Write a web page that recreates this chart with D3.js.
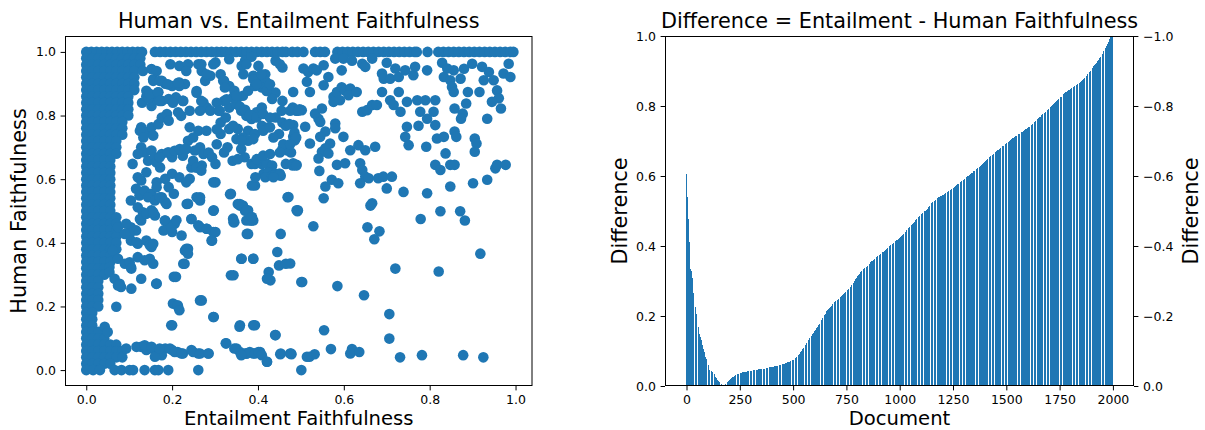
<!DOCTYPE html>
<html><head><meta charset="utf-8">
<script src="https://cdn.jsdelivr.net/npm/d3@7"></script>
<style>body{margin:0;background:#fff}svg{display:block}</style>
</head><body><svg id="chart" width="1205" height="430"></svg>
<script>
// ---------- DATA ----------
const leftTitle = "Human vs. Entailment Faithfulness";
const rightTitle = "Difference = Entailment - Human Faithfulness";
const leftXLabel = "Entailment Faithfulness";
const leftYLabel = "Human Faithfulness";
const rightXLabel = "Document";
const rightYLabel = "Difference";
const scatterTicks = [0, 0.2, 0.4, 0.6, 0.8, 1.0];
const docTicks = [0, 250, 500, 750, 1000, 1250, 1500, 1750, 2000];
const diffTicks = [0, 0.2, 0.4, 0.6, 0.8, 1.0];
const diffTicksRight = [0, -0.2, -0.4, -0.6, -0.8, -1.0];

// scatter: [entailment, human]
const topRowPoints = [[0,1],[.012,1],[.024,1],[.036,1],[.048,1],[.06,1],[.072,1],[.084,1],[.096,1],[.108,1],[.12,1],[.13,1],
[.16,1],[.172,1],[.184,1],[.196,1],[.208,1],[.22,1],[.232,1],[.244,1],[.256,1],[.268,1],[.28,1],[.292,1],[.304,1],[.315,1],
[.325,1],[.337,1],[.349,1],[.361,1],[.373,1],[.385,1],[.397,1],[.409,1],[.421,1],[.433,1],[.445,1],[.457,1],[.465,1],
[.48,1],[.492,1],[.506,1],[.533,1],[.545,1],[.556,1],
[.585,1],[.597,1],[.609,1],[.621,1],[.633,1],[.645,1],[.657,1],[.669,1],[.681,1],[.693,1],[.705,1],[.717,1],[.729,1],[.741,1],[.753,1],[.765,1],[.77,1],
[.795,1],[.82,1],[.832,1],[.844,1],[.856,1],[.868,1],[.88,1],[.892,1],[.904,1],[.916,1],[.928,1],[.94,1],[.952,1],[.964,1],[.976,1],[.988,1],[.995,1]];

const denseColumnPoints = [
[0,.98],[.014,.98],[.028,.98],[.042,.98],[.056,.98],[.07,.98],[.084,.98],[.098,.98],[.112,.98],[.126,.98],
[0,.96],[.014,.96],[.028,.96],[.042,.96],[.056,.96],[.07,.96],[.084,.96],[.098,.96],[.112,.96],[.126,.96],
[0,.94],[.014,.94],[.028,.94],[.042,.94],[.056,.94],[.07,.94],[.084,.94],[.098,.94],[.112,.94],
[0,.92],[.014,.92],[.028,.92],[.042,.92],[.056,.92],[.07,.92],[.084,.92],[.098,.92],[.112,.92],
[0,.90],[.014,.90],[.028,.90],[.042,.90],[.056,.90],[.07,.90],[.084,.90],[.098,.90],[.112,.90],
[0,.88],[.014,.88],[.028,.88],[.042,.88],[.056,.88],[.07,.88],[.084,.88],[.098,.88],[.112,.88],
[0,.86],[.014,.86],[.028,.86],[.042,.86],[.056,.86],[.07,.86],[.084,.86],[.098,.86],
[0,.84],[.014,.84],[.028,.84],[.042,.84],[.056,.84],[.07,.84],[.084,.84],[.098,.84],
[0,.82],[.014,.82],[.028,.82],[.042,.82],[.056,.82],[.07,.82],[.084,.82],[.098,.82],
[0,.80],[.014,.80],[.028,.80],[.042,.80],[.056,.80],[.07,.80],[.084,.80],[.098,.80],
[0,.78],[.014,.78],[.028,.78],[.042,.78],[.056,.78],[.07,.78],[.084,.78],
[0,.76],[.014,.76],[.028,.76],[.042,.76],[.056,.76],[.07,.76],[.084,.76],
[0,.74],[.014,.74],[.028,.74],[.042,.74],[.056,.74],[.07,.74],[.084,.74],
[0,.72],[.014,.72],[.028,.72],[.042,.72],[.056,.72],[.07,.72],
[0,.70],[.014,.70],[.028,.70],[.042,.70],[.056,.70],[.07,.70],
[0,.68],[.014,.68],[.028,.68],[.042,.68],[.056,.68],[.07,.68],
[0,.66],[.014,.66],[.028,.66],[.042,.66],[.056,.66],
[0,.64],[.014,.64],[.028,.64],[.042,.64],[.056,.64],
[0,.62],[.014,.62],[.028,.62],[.042,.62],[.056,.62],
[0,.60],[.014,.60],[.028,.60],[.042,.60],[.056,.60],
[0,.58],[.014,.58],[.028,.58],[.042,.58],[.056,.58],
[0,.56],[.014,.56],[.028,.56],[.042,.56],[.056,.56],
[0,.54],[.014,.54],[.028,.54],[.042,.54],[.056,.54],
[0,.52],[.014,.52],[.028,.52],[.042,.52],[.056,.52],
[0,.50],[.014,.50],[.028,.50],[.042,.50],[.056,.50],
[0,.48],[.014,.48],[.028,.48],[.042,.48],[.056,.48],[.07,.48],
[0,.46],[.014,.46],[.028,.46],[.042,.46],[.056,.46],[.07,.46],
[0,.44],[.014,.44],[.028,.44],[.042,.44],[.056,.44],[.07,.44],
[0,.42],[.014,.42],[.028,.42],[.042,.42],[.056,.42],[.07,.42],
[0,.40],[.014,.40],[.028,.40],[.042,.40],[.056,.40],[.07,.40],
[0,.38],[.014,.38],[.028,.38],[.042,.38],[.056,.38],[.07,.38],
[0,.36],[.014,.36],[.028,.36],[.042,.36],[.056,.36],
[0,.34],[.014,.34],[.028,.34],[.042,.34],[.056,.34],
[0,.32],[.014,.32],[.028,.32],[.042,.32],
[0,.30],[.014,.30],[.028,.30],[.042,.30],
[0,.28],[.014,.28],[.028,.28],
[0,.26],[.014,.26],[.028,.26],
[0,.24],[.014,.24],[.028,.24],
[0,.22],[.014,.22],[.028,.22],
[0,.20],[.014,.20],[.028,.20],
[0,.18],[.014,.18],
[0,.16],[.014,.16],
[0,.14],[.014,.14],
[0,.12],[.014,.12],[.028,.12],
[0,.10],[.014,.10],[.028,.10],[.042,.10],
[0,.08],[.014,.08],[.028,.08],[.042,.08],[.056,.08],[.07,.08],
[0,.06],[.014,.06],[.028,.06],[.042,.06],[.056,.06],[.07,.06],[.084,.06],
[0,.04],[.014,.04],[.028,.04],[.042,.04],[.056,.04],[.07,.04],[.084,.04],
[0,.02],[.014,.02],[.028,.02],[.042,.02],[.056,.02],
[0,0],[.016,0],[.032,0],[.066,0],[.082,0],[.101,0],[.109,0],[.136,0],[.16,0],[.168,0],[.191,0],[.261,0],[.501,0]];

const scatteredPoints = [
[.506,.948],[.517,.937],[.529,.948],[.537,.942],[.553,.958],[.514,.906],[.553,.895],[.564,.921],
[.58,.979],[.599,.979],[.619,.972],[.643,.963],[.65,.953],[.666,.979],[.595,.942],
[.7,.966],[.689,.932],[.693,.916],[.708,.916],[.72,.948],[.728,.921],[.743,.942],[.762,.927],[.766,.953],[.794,.942],
[.829,.966],[.841,.948],[.856,.942],[.88,.947],[.899,.963],[.833,.921],[.848,.911],[.872,.916],[.852,.89],[.856,.874],
[.922,.953],[.938,.937],[.926,.911],[.949,.911],[.972,.932],[.984,.963],[.988,.921],
[.957,.879],[.961,.854],[.945,.843],[.966,.822],
[.889,.874],[.916,.874],[.885,.838],[.858,.822],[.877,.806],[.873,.79],[.934,.79],[.521,.874],
[.576,.859],[.584,.874],[.595,.889],[.603,.879],[.615,.885],[.611,.864],[.591,.848],[.576,.843],[.63,.874],
[.689,.874],[.728,.874],[.708,.848],[.716,.833],[.732,.812],[.747,.843],[.771,.848],[.79,.848],[.813,.848],
[.643,.812],[.654,.817],[.666,.833],[.677,.833],[.482,.874],[.49,.817],[.502,.817],
[.533,.806],[.541,.79],[.549,.822],[.545,.78],[.482,.77],[.51,.765],[.58,.775],[.58,.76],[.557,.75],[.545,.733],
[.482,.733],[.486,.722],[.599,.733],[.521,.712],[.568,.712],[.557,.697],[.549,.686],[.564,.681],[.541,.665],
[.615,.691],[.634,.707],[.65,.691],[.673,.702],
[.747,.765],[.774,.768],[.794,.79],[.813,.77],[.778,.812],[.809,.812],[.743,.733],[.751,.707],[.792,.702],
[.817,.728],[.833,.733],[.858,.75],[.862,.733],[.837,.681],[.905,.728],[.909,.712],[.905,.686],
[.482,.65],[.49,.645],[.584,.645],[.603,.65],[.638,.65],[.643,.629],[.65,.608],[.658,.603],
[.543,.626],[.572,.598],[.587,.587],[.557,.577],[.553,.54],
[.638,.587],[.68,.603],[.692,.608],[.712,.608],[.7,.571],[.739,.56],
[.813,.645],[.825,.629],[.848,.645],[.858,.645],[.794,.556],[.848,.577],
[.901,.587],[.934,.598],[.953,.634],[.957,.645],[.977,.645],[.666,.524],
[.492,.499],[.529,.452],[.662,.517],[.655,.449],[.683,.436],[.671,.411],[.779,.475],[.825,.499],[.871,.499],[.882,.47],
[.918,.366],[.475,.335],[.72,.319],[.821,.31],[.503,.277],[.585,.264],[.647,.235],[.706,.176],[.554,.125],[.706,.099],
[.478,.05],[.52,.042],[.532,.05],[.57,.066],[.619,.066],[.615,.052],[.636,.057],[.731,.04],[.782,.047],[.878,.047],[.925,.04],
[.132,.94],[.152,.946],[.164,.94],[.14,.878],[.156,.914],[.176,.909],[.168,.873],[.176,.846],[.192,.852],[.184,.9],[.2,.893],[.196,.961],[.217,.904],
[.13,.84],[.14,.86],[.152,.83],[.165,.85],[.145,.855],
[.128,.763],[.14,.747],[.152,.763],[.156,.737],[.168,.773],[.176,.794],[.188,.805],[.192,.784],
[.128,.7],[.136,.684],[.152,.69],[.144,.658],[.16,.669],[.12,.679],[.108,.648],
[.172,.637],[.176,.679],[.192,.684],[.2,.669],[.12,.606],[.128,.596],[.14,.622],[.164,.59],[.184,.601],[.2,.617],
[.116,.57],[.124,.549],[.136,.564],[.152,.554],[.164,.575],[.176,.543],[.192,.575],[.204,.554],
[.104,.533],[.12,.512],[.144,.543],[.16,.533],[.184,.528],[.132,.496],[.152,.502],[.16,.486],
[.104,.449],[.116,.439],[.128,.47],[.184,.47],[.192,.455],[.204,.46],[.2,.434],[.18,.439],
[.104,.407],[.12,.397],[.14,.407],[.152,.387],[.148,.35],[.12,.355],[.136,.345],[.156,.334],[.104,.324],
[.128,.287],[.164,.272],[.204,.293],[.2,.141],
[.128,.073],[.14,.063],[.152,.068],[.168,.057],[.184,.068],[.2,.063],[.213,.057],[.225,.052],[.176,.047],[.16,.042],
[.074,.449],[.093,.46],[.101,.428],[.09,.428],[.117,.402],[.148,.392],[.156,.397],[.125,.475],[.14,.491],[.156,.496],
[.187,.522],[.234,.522],[.265,.533],[.183,.47],[.206,.46],[.198,.449],[.222,.423],[.245,.475],[.261,.455],[.28,.444],
[.296,.434],[.292,.407],[.23,.376],[.237,.381],[.226,.334],[.296,.501],[.343,.465],[.358,.517],[.37,.501],[.381,.47],
[.389,.47],[.374,.428],[.362,.35],[.389,.35],[.343,.298],
[.062,.376],[.074,.35],[.09,.334],[.101,.339],[.054,.324],[.054,.308],[.066,.287],[.078,.271],[.081,.261],[.105,.256],
[.074,.266],[.105,.319],[.163,.271],[.07,.199],[.043,.136],[.05,.12],[.202,.209],[.214,.199],[.198,.141],[.265,.219],
[.296,.167],[.326,.084],[.35,.068],[.37,.052],[.358,.141],[.389,.141],[.44,.11],
[.093,.068],[.117,.073],[.136,.078],[.152,.073],[.171,.068],[.195,.068],[.206,.057],[.222,.052],[.245,.063],[.261,.052],[.284,.052],
[.249,.057],[.265,.052],
[.358,.057],[.374,.052],[.389,.052],[.405,.057],[.421,.026],[.452,.05],[.475,.052],[.514,.042],
[.217,.956],[.237,.961],[.23,.899],[.217,.893],[.209,.857],[.225,.846],[.221,.799],
[.261,.961],[.269,.94],[.277,.909],[.289,.925],[.301,.967],[.257,.872],[.273,.841],[.281,.825],[.289,.815],[.265,.815],
[.241,.763],[.261,.752],[.237,.721],[.249,.731],[.265,.7],[.273,.679],[.285,.684],[.293,.669],[.301,.648],
[.233,.695],[.253,.69],[.225,.674],[.245,.637],[.257,.637],[.269,.643],[.217,.606],[.241,.601],[.233,.59],
[.301,.59],[.237,.523],[.265,.543],[.297,.502],[.245,.475],[.265,.449],[.281,.444],[.301,.434],[.293,.407],
[.233,.381],[.237,.366],[.229,.334],[.209,.293],[.269,.219],[.297,.167],[.213,.204],[.217,.188],[.285,.052],
[.313,.93],[.321,.909],[.333,.893],[.345,.878],[.353,.857],[.365,.862],[.377,.878],[.393,.893],[.389,.925],[.405,.909],
[.333,.977],[.37,.972],[.385,.985],
[.321,.846],[.333,.825],[.349,.836],[.361,.815],[.373,.799],[.385,.789],[.397,.81],[.409,.825],
[.309,.815],[.313,.778],[.325,.794],[.333,.758],[.353,.758],[.377,.752],[.393,.742],[.409,.768],[.425,.763],
[.313,.742],[.329,.7],[.321,.684],[.365,.731],[.377,.721],[.361,.695],[.369,.669],[.385,.648],[.341,.658],[.353,.663],
[.393,.648],[.409,.648],[.421,.648],[.433,.643],[.413,.617],[.425,.622],[.441,.617],[.453,.611],[.393,.58],
[.337,.554],[.353,.522],[.365,.517],[.377,.502],[.385,.47],[.373,.47],[.345,.465],[.377,.428],[.361,.35],[.337,.298],
[.357,.136],[.393,.141],[.325,.084],[.345,.068],[.373,.052],[.381,.057],[.361,.047],[.393,.052],[.401,.057],[.409,.047],[.389,.35],
[.401,.956],[.417,.93],[.401,.909],[.417,.909],[.409,.888],[.425,.878],[.441,.872],[.433,.852],[.457,.846],[.481,.825],[.489,.815],[.497,.82],
[.441,.972],[.457,.951],[.441,.794],[.457,.778],[.465,.768],[.473,.773],[.485,.747],[.449,.742],[.489,.731],
[.457,.695],[.469,.69],[.477,.684],[.465,.648],[.481,.643],[.489,.643],[.417,.606],[.433,.611],[.449,.617],[.469,.543],
[.493,.502],[.453,.428],[.445,.371],[.449,.329],[.425,.308],[.429,.282],[.421,.287],[.465,.334],
[.441,.11],[.453,.052],[.477,.052],[.421,.026],[.501,.277],
[.362,.956],[.373,.961],[.366,.93],[.389,.914],[.397,.898],[.408,.93],[.42,.877],[.428,.898],[.451,.961],
[.342,.857],[.35,.862],[.358,.828],[.37,.818],[.381,.802],[.397,.794],[.412,.805],[.428,.794],[.455,.815],[.475,.815],[.494,.815],
[.342,.768],[.412,.752],[.428,.763],[.35,.726],[.362,.721],[.389,.726],[.436,.731],[.459,.71],[.475,.71],
[.397,.663],[.412,.674],[.428,.679],[.451,.684],[.28,.752],[.304,.757],[.304,.71],[.249,.658],[.257,.637],[.268,.627],
[.19,.684],[.206,.689],[.218,.695],[.23,.695],[.163,.653],[.171,.669],[.125,.752],[.133,.731],
[.296,.59],[.335,.553],[.386,.58],[.394,.606],[.358,.522],[.373,.502],[.386,.481],[.451,.617],[.436,.606],[.471,.544],
[.49,.502],[.342,.476],[.257,.543],[.171,.543],[.21,.471],
[.268,.961],[.296,.961],[.156,.909],[.171,.909],[.19,.898],[.214,.903],[.148,.868],[.167,.873],[.171,.846],
[.233,.94],[.257,.877],[.268,.846],[.28,.93],[.319,.909],[.323,.888],[.304,.84],[.327,.851],[.311,.815],
[.202,.84],[.214,.81],[.226,.846],[.241,.815]];

const scatterPoints = topRowPoints.concat(denseColumnPoints, scatteredPoints);

// difference per document (2000 documents)
const diffValues = [
.606,.59,.575,.56,.552,.54,.525,.505,.49,.476,.465,.45,.44,.425,.412,.39,.37,.35,.336,
.334,.333,.332,.331,.33,.329,.327,.325,
.32,.31,.295,.285,.275,.27,
.265,.26,.256,.252,.248,.244,.24,.236,.232,
.227,
.223,.219,.214,.21,.206,.202,.198,.194,.189,
.185,.181,.177,.173,.169,.165,.161,.157,.153,.15,
.148,.146,.144,.142,.14,.138,.136,.134,.131,
.128,.126,.123,.121,.118,.116,.113,.111,.108,.106,
.103,.101,.098,.096,.093,.091,.089,.086,.084,
.082,.081,.079,.078,.076,.075,.073,.072,.07,
.068,.066,.064,.062,.06,.057,.054,.051,.048,.046,
.046,.045,.045,.044,.044,.044,.043,.043,.043,.042,.042,.042,.041,.041,.041,.04,.04,.039,
.038,.037,.036,.034,.033,.032,.031,.03,.028,.027,
.026,.025,.024,.023,.022,.021,.02,.018,.017,
.016,.016,.015,.014,.014,.013,.012,.012,.011,.011,.01,
.009,.009,.008,.007,.007,.006,.005,.005,.004,.004,.003,
.003,.002,.002,.001,.001,.001,0,0,0,
.001,.002,.003,.004,.005,.006,.007,.008,.008,.009,.01,
.01,.011,.011,.011,.012,.012,.012,.013,.013,.013,.014,
.015,.016,.016,.017,.018,.019,.019,.02,.021,.021,.022,.022,.023,
.023,.024,.024,.025,.025,.026,.026,.027,.027,.028,.028,.029,
.029,.03,.03,.03,.031,.031,.032,.032,.032,.033,.033,.034,.034,
.034,.034,.034,.035,.035,.035,.035,.035,.036,.036,.036,.036,.036,.037,.037,.037,.037,.037,.038,.038,.038,.038,
.038,.038,.038,.039,.039,.039,.039,.039,.039,.039,.039,.04,.04,.04,.04,.04,.04,.04,.04,.041,.041,.041,.041,.041,.041,.041,.041,.042,.042,.042,.042,
.042,.042,.042,.042,.043,.043,.043,.043,.043,.043,.043,.043,.044,.044,.044,.044,.044,.044,.044,.044,.045,.045,.045,.045,.045,.045,.045,.045,
.046,.046,.046,.046,.046,.046,.046,.046,.047,.047,.047,.047,.047,.047,.047,.047,.048,.048,.048,
.048,.048,.048,.048,.048,.048,.049,.049,.049,.049,.049,.049,.049,.049,.049,.049,.049,.049,.05,.05,.05,.05,.05,.05,.05,.05,.05,.05,.05,.05,
.051,.051,.051,.051,.051,.051,.051,.051,.051,.051,.051,.051,.052,.052,.052,.052,.052,
.052,.052,.052,.052,.053,.053,.053,.053,.053,.053,.053,.054,.054,.054,.054,.054,.054,.054,.055,.055,.055,.055,.055,.055,.055,
.056,.056,.056,.056,.056,.056,.056,.057,.057,.057,.057,.057,.057,.057,.058,.058,.058,.058,.058,.058,.058,
.059,.059,.059,.059,.059,.059,.06,.06,.06,.06,.06,.06,.061,.061,.061,.061,
.061,.061,.062,.062,.062,.062,.062,.063,.063,.063,.063,.064,.064,.064,.064,.065,.065,.065,.065,.066,.066,.066,.066,
.067,.067,.067,.067,.068,.068,.068,.068,.069,.069,.069,.069,.07,.07,.07,.07,.071,.071,.071,.071,.072,.072,.072,.072,
.073,.073,.073,.073,.074,.074,.074,.074,
.075,.075,.076,.076,.077,.077,.078,.078,.079,.079,.08,.081,.081,.082,.082,.083,.084,.084,.085,.085,.086,.087,.087,.088,.089,.089,.09,.091,.091,.092,.093,
.094,.095,.096,.097,.098,.099,.1,.101,.102,.103,.104,.104,.105,.106,.107,.108,.109,.11,.111,.112,.113,.114,.115,.115,.116,.117,.118,.119,.12,.121,.122,
.123,.124,.125,.126,.127,.128,.128,.129,.13,.131,.132,.133,.134,.135,.136,.136,.137,.138,.139,.14,.141,.142,.143,.144,.144,.145,.146,.147,.148,.149,.149,.15,
.151,.152,.153,.154,.155,.156,.157,.158,.159,.16,.161,.162,.162,.163,.164,.165,.166,.167,.168,.169,.17,.171,.171,.172,.173,.174,.175,.176,.177,.178,.179,
.18,.181,.182,.183,.184,.186,.187,.188,.189,.19,.191,.192,.193,.194,.195,.196,.197,.198,.199,.2,.201,.202,.203,.204,.205,.206,.207,.209,.21,.211,.212,
.213,.214,.214,.215,.216,.217,.217,.218,.219,.22,.22,.221,.222,.223,.223,.224,.225,.226,.226,.227,.228,.229,.229,.23,.231,.232,.232,.233,.234,.235,.236,
.236,.237,.237,.238,.238,.239,.239,.24,.24,.241,.241,.242,.242,.243,.243,.244,.244,.245,.245,.246,.246,.247,.247,.248,.248,.249,.249,.25,.25,.25,.251,.251,
.252,.252,.253,.254,.254,.255,.256,.256,.257,.257,.258,.259,.259,.26,.26,.261,.262,.262,.263,.264,.264,.265,.265,.266,.267,.267,.268,.268,.269,.27,.27,
.271,.272,.272,.273,.274,.275,.275,.276,.277,.278,.278,.279,.28,.281,.281,.282,.283,.284,.284,.285,.286,.287,.287,.288,.289,.29,.29,.291,.292,.293,.293,
.294,.295,.296,.297,.298,.299,.3,.301,.302,.303,.304,.305,.306,.307,.307,.308,.309,.31,.311,.312,.313,.314,.315,.315,.316,.317,.318,.319,.32,.321,.322,
.323,.323,.324,.325,.325,.326,.326,.327,.328,.328,.329,.33,.33,.331,.331,.332,.333,.333,.334,.334,.335,.336,.336,.337,.337,.338,.339,.339,.34,.34,.341,.341,
.342,.342,.343,.344,.344,.345,.346,.346,.347,.347,.348,.349,.349,.35,.35,.351,.352,.352,.353,.354,.354,.355,.355,.356,.357,.357,.358,.358,.359,.36,.36,
.361,.361,.362,.362,.363,.363,.364,.364,.365,.365,.366,.366,.367,.367,.368,.368,.369,.369,.37,.37,.371,.371,.372,.372,.373,.373,.374,.374,.375,.375,.376,
.376,.377,.377,.378,.378,.379,.379,.38,.38,.381,.381,.381,.382,.382,.383,.383,.384,.384,.385,.385,.386,.386,.386,.387,.387,.388,.388,.389,.389,.39,.39,
.391,.391,.392,.392,.393,.394,.394,.395,.395,.396,.396,.397,.398,.398,.399,.399,.4,.4,.401,.402,.402,.403,.403,.404,.404,.405,.406,.406,.407,.407,.408,.408,
.409,.409,.41,.41,.411,.411,.412,.412,.413,.413,.414,.414,.414,.415,.415,.416,.416,.417,.417,.418,.418,.418,.419,.419,.42,.42,.421,.421,.421,.422,.422,
.423,.424,.424,.425,.426,.426,.427,.428,.429,.429,.43,.431,.431,.432,.433,.433,.434,.435,.436,.436,.437,.438,.438,.439,.44,.44,.441,.442,.443,.443,.444,
.445,.445,.446,.447,.447,.448,.449,.45,.45,.451,.452,.452,.453,.454,.454,.455,.456,.457,.457,.458,.459,.459,.46,.461,.461,.462,.463,.464,.464,.465,.465,
.466,.467,.467,.468,.469,.469,.47,.471,.471,.472,.473,.473,.474,.475,.475,.476,.477,.477,.478,.479,.479,.48,.481,.481,.482,.483,.483,.484,.485,.485,.486,.486,
.487,.487,.488,.488,.489,.49,.49,.491,.491,.492,.492,.493,.494,.494,.495,.495,.496,.496,.497,.498,.498,.499,.499,.5,.5,.501,.501,.502,.502,.503,.503,
.504,.505,.505,.506,.507,.508,.509,.509,.51,.511,.512,.512,.513,.514,.515,.516,.516,.517,.518,.519,.52,.52,.521,.522,.523,.523,.524,.525,.526,.526,.527,
.527,.528,.528,.529,.529,.53,.53,.531,.531,.531,.532,.532,.533,.533,.534,.534,.535,.535,.535,.536,.536,.537,.537,.538,.538,.539,.539,.539,.54,.54,.541,
.541,.542,.542,.542,.543,.543,.543,.544,.544,.544,.545,.545,.545,.546,.546,.546,.547,.547,.547,.548,.548,.548,.549,.549,.549,.55,.55,.551,.551,.552,.552,.553,
.553,.554,.554,.554,.555,.555,.556,.556,.556,.557,.557,.558,.558,.558,.559,.559,.56,.56,.56,.561,.561,.562,.562,.562,.563,.563,.564,.564,.564,.565,.565,
.566,.566,.567,.567,.568,.568,.569,.569,.57,.57,.571,.571,.572,.572,.573,.573,.574,.574,.575,.575,.576,.576,.577,.577,.578,.578,.579,.579,.58,.58,.581,.581,.582,.582,.583,.583,.584,.584,.585,.585,.586,.586,.587,.587,.587,.588,.588,
.589,.589,.59,.59,.591,.591,.592,.592,.593,.593,.594,.594,.595,.595,.596,.596,.597,.597,.598,.598,.599,.599,.6,.6,.601,.601,.602,.602,.603,.603,.604,.604,.605,.605,.606,.606,.607,.607,.608,.608,
.609,.609,.61,.61,.611,.611,.612,.612,.613,.613,.614,.614,.615,.615,.616,.616,.617,.617,.618,.618,.619,.619,.62,.62,.621,.621,.622,.622,.623,.623,.624,.624,.625,.625,.626,.626,.627,.627,
.628,.628,.629,.629,.63,.631,.631,.632,.632,.633,.633,.634,.634,.635,.636,.636,.637,.637,.638,.638,.639,.639,.64,.641,.641,.642,.642,.643,.643,.644,.644,.645,.646,.646,.647,.647,.648,.648,.649,.649,.65,
.651,.651,.652,.652,.653,.653,.654,.654,.655,.656,.656,.657,.657,.658,.658,.659,.659,.66,.661,.661,.662,.662,.663,.663,.664,.664,.665,.666,.666,.667,.667,.668,.668,.669,.669,.67,.67,
.671,.671,.672,.672,.673,.673,.674,.674,.675,.675,.676,.676,.677,.677,.678,.678,.679,.679,.68,.68,.681,.681,.682,.682,.683,.683,.684,.684,.685,.685,.686,.686,.687,.687,.688,.688,.689,.689,.69,.69,.69,
.691,.691,.692,.692,.693,.693,.694,.694,.695,.695,.696,.696,.697,.697,.698,.698,.699,.699,.7,.7,.701,.701,.702,.702,.703,.703,.704,.704,.705,.705,.706,.706,.707,.707,.708,.708,.708,
.709,.709,.71,.71,.71,.711,.711,.712,.712,.712,.713,.713,.714,.714,.715,.715,.715,.716,.716,.717,.717,.718,.718,.718,.719,.719,.72,.72,.72,.721,.721,.722,.722,.723,.723,.723,.724,.724,.725,.725,
.726,.726,.726,.727,.727,.728,.728,.728,.729,.729,.73,.73,.731,.731,.731,.732,.732,.733,.733,.734,.734,.734,.735,.735,.736,.736,.736,.737,.737,.738,.738,.739,.739,.739,.74,.74,.741,.741,
.742,.742,.743,.743,.744,.744,.745,.746,.746,.747,.747,.748,.748,.749,.75,.75,.751,.751,.752,.752,.753,.754,.754,.755,.755,.756,.756,.757,.758,.758,.759,.759,.76,.76,.761,.762,.762,.763,.763,.764,.764,.765,
.766,.766,.767,.767,.768,.768,.769,.77,.77,.771,.771,.772,.772,.773,.774,.774,.775,.775,.776,.776,.777,.778,.778,.779,.779,.78,.78,.781,.782,.782,.783,.783,.784,.784,.785,.786,.786,.787,.787,.788,.788,.789,
.79,.79,.791,.791,.792,.793,.793,.794,.794,.795,
.796,.796,.797,.797,.798,.799,.799,.8,.8,.801,.801,.802,.803,.803,.804,.804,.805,.805,.806,.807,.807,.808,.808,.809,.81,.81,.811,.811,.812,.812,.813,.814,.814,.815,.815,.816,.816,.817,.818,.818,.819,.819,.82,
.821,.821,.822,.822,.823,.823,.824,.825,.825,.826,.826,.827,.827,.828,.829,.829,.83,.83,.831,.832,.832,.833,.833,.834,.834,.835,.836,.836,.837,.837,.838,.839,.839,.84,.84,
.841,.841,.842,.842,.843,.843,.843,.844,.844,.845,.845,.846,.846,.846,.847,.847,.848,.848,.849,.849,.85,.85,.85,.851,.851,.852,.852,.853,.853,.853,.854,.854,.855,.855,.856,.856,.856,.857,.857,
.858,.858,.859,.859,.86,.86,.86,.861,.861,.862,.862,.863,.863,.863,.864,.864,.865,.865,.866,.866,.866,.867,.867,.868,.868,.869,.869,.869,.87,.87,.871,.871,.872,.872,.872,.873,.873,.874,.874,
.875,.876,.876,.877,.878,.879,.879,.88,.881,.882,.882,.883,.884,.885,.885,.886,.887,.888,.888,.889,.89,.891,.891,.892,.893,.894,.894,.895,.896,.897,.897,.898,.899,.9,.9,.901,.902,.903,.903,
.904,.905,.906,.907,.908,.908,.909,.91,.911,.912,.913,.913,.914,.915,.916,.917,.918,.918,.919,.92,.921,.922,.923,.923,.924,.925,.926,.927,.928,.928,.929,.93,.931,.932,.933,.933,.934,.935,.936,
.937,.938,.939,.94,.941,.942,.943,.944,.945,.946,.947,.948,.949,.95,.951,.952,.954,.955,.956,.957,.958,.959,.96,.961,.962,.963,.964,.965,.966,.967,.968,.969,
.971,.972,.974,.975,.977,.978,.98,.981,.983,.984,.986,.988,.989,.991,.992,.994,.995,.997,.998,1,1,1,1,1,1,1,1,1,1,1];

// ---------- DRAW ----------
const blue = "#1f77b4";
const FONT = "'DejaVu Sans', sans-serif";
const svg = d3.select("#chart");
const L = {x0: 65, x1: 532.5, y0: 36, y1: 386};
const R = {x0: 665, x1: 1134, y0: 36, y1: 386};

function styleAxis(g) {
  g.attr("font-size", 12.5).attr("font-family", FONT);
  g.select(".domain").remove();
  g.selectAll(".tick line").attr("stroke", "#000").attr("stroke-width", 1);
  g.selectAll(".tick text").attr("fill", "#000");
}

// Left scatter
const xS = d3.scaleLinear().domain([-0.0495, 1.0395]).range([L.x0, L.x1]);
const yS = d3.scaleLinear().domain([-0.05, 1.05]).range([L.y1, L.y0]);
svg.append("defs").append("clipPath").attr("id", "clipL").append("rect")
  .attr("x", L.x0).attr("y", L.y0).attr("width", L.x1 - L.x0).attr("height", L.y1 - L.y0);
svg.append("g").attr("clip-path", "url(#clipL)").selectAll("circle").data(scatterPoints).join("circle")
  .attr("cx", d => xS(d[0])).attr("cy", d => yS(d[1])).attr("r", 5.3).attr("fill", blue);

const fmt1 = d3.format(".1f");
svg.append("g").attr("transform", `translate(0,${L.y1})`)
  .call(d3.axisBottom(xS).tickValues(scatterTicks).tickFormat(fmt1).tickSize(4.4).tickPadding(4.6)).call(styleAxis);
svg.append("g").attr("transform", `translate(${L.x0},0)`)
  .call(d3.axisLeft(yS).tickValues(scatterTicks).tickFormat(fmt1).tickSize(4.4).tickPadding(4.6)).call(styleAxis);
svg.append("rect").attr("x", L.x0 + 0.5).attr("y", L.y0 + 0.5).attr("width", L.x1 - L.x0 - 1).attr("height", L.y1 - L.y0 - 1)
  .attr("fill", "none").attr("stroke", "#000").attr("stroke-width", 1);

// Right bars
const xR = d3.scaleLinear().domain([-100.9, 2098.9]).range([R.x0, R.x1]);
const yR = d3.scaleLinear().domain([0, 1]).range([R.y1, R.y0]);
const yR2 = d3.scaleLinear().domain([0, -1]).range([R.y1, R.y0]);
svg.append("g").attr("shape-rendering", "crispEdges").selectAll("rect").data(diffValues).join("rect")
  .attr("x", (d, i) => xR(i - 0.4)).attr("width", (d, i) => xR(i + 0.4) - xR(i - 0.4))
  .attr("y", d => yR(d)).attr("height", d => yR(0) - yR(d)).attr("fill", blue);

svg.append("g").attr("transform", `translate(0,${R.y1})`)
  .call(d3.axisBottom(xR).tickValues(docTicks).tickFormat(d3.format("d")).tickSize(4.4).tickPadding(4.6)).call(styleAxis);
svg.append("g").attr("transform", `translate(${R.x0},0)`)
  .call(d3.axisLeft(yR).tickValues(diffTicks).tickFormat(fmt1).tickSize(4.4).tickPadding(4.6)).call(styleAxis);
svg.append("g").attr("transform", `translate(${R.x1},0)`)
  .call(d3.axisRight(yR2).tickValues(diffTicksRight).tickFormat(fmt1).tickSize(4.4).tickPadding(4.6)).call(styleAxis);
svg.append("rect").attr("x", R.x0 + 0.5).attr("y", R.y0 + 0.5).attr("width", R.x1 - R.x0 - 1).attr("height", R.y1 - R.y0 - 1)
  .attr("fill", "none").attr("stroke", "#000").attr("stroke-width", 1);

// Titles and labels
function label(x, y, txt, rot, size) {
  const t = svg.append("text").attr("font-family", FONT).attr("font-size", size || 20.8).attr("fill", "#000")
    .attr("text-anchor", "middle").text(txt);
  t.attr("transform", `translate(${x},${y})` + (rot ? " rotate(-90)" : ""));
}
label((L.x0 + L.x1) / 2, 28, leftTitle);
label((R.x0 + R.x1) / 2, 28, rightTitle);
label((L.x0 + L.x1) / 2, 425.2, leftXLabel, false, 19.6);
label((R.x0 + R.x1) / 2, 425.2, rightXLabel, false, 19.6);
label(26, (L.y0 + L.y1) / 2, leftYLabel, true);
label(627, (R.y0 + R.y1) / 2, rightYLabel, true);
label(1198, (R.y0 + R.y1) / 2, rightYLabel, true);
</script></body></html>
